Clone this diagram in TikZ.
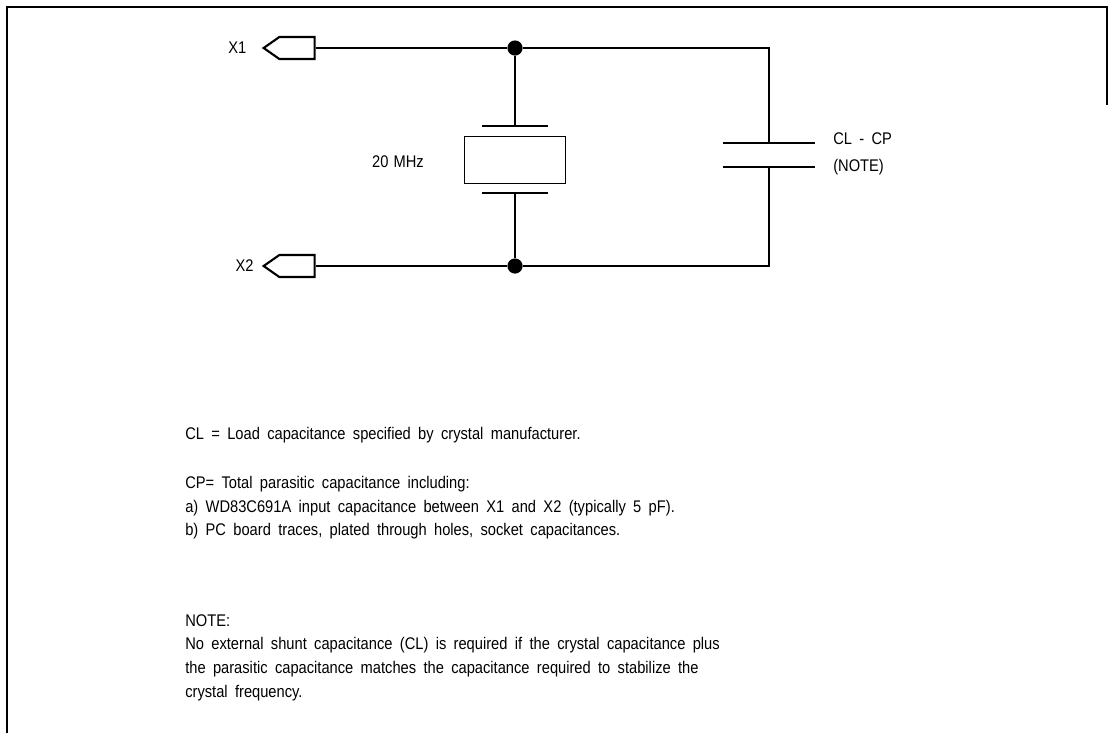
\documentclass[tikz,border=0pt]{standalone}
\usepackage{fontspec}
\setmainfont{Liberation Sans}[FakeStretch=0.87, WordSpace=1.8]
\usetikzlibrary{shapes.symbols, positioning}

\begin{document}
\begin{tikzpicture}[x=0.025cm, y=-0.025cm,
	port/.style={signal, signal to=west, signal pointer angle=70, draw,
		line width=1.5pt, minimum width=1.275cm, minimum height=0.55cm, inner sep=0pt},
	dot/.style={circle, fill, inner sep=0pt, minimum size=0.38cm},
	wire/.style={line width=1pt},
	plate/.style={line width=1.2pt},
	lbl/.style={inner sep=0pt, font=\fontsize{12}{14}\selectfont},
	txt/.style={lbl, anchor=base west}]
	\useasboundingbox (0,0) rectangle (1109,733);
	% frame
	\draw[line width=1.1pt] (7,733) -- (7,7) -- (1107,7) -- (1107,105);

	% ports
	\node[port] (x1) at (297,48) {};
	\node[port] (x2) at (297,266) {};
	\node[lbl, left=0.38cm of x1] (lx1) {X1};
	\node[lbl, left=0.2cm of x2] (lx2) {X2};

	% junctions
	\node[dot] (top) at (515,48) {};
	\node[dot] (bot) at (515,266) {};
	\coordinate (ctop) at (769,48);
	\coordinate (cbot) at (769,266);

	% crystal
	\node[draw, line width=0.6pt, minimum width=2.525cm, minimum height=1.175cm, inner sep=0pt] (xtal) at (515,159.5) {};
	\coordinate (xp1) at (515,126);
	\coordinate (xp2) at (515,193);
	\draw[plate] ([xshift=-0.825cm]xp1) -- ([xshift=0.825cm]xp1);
	\draw[plate] ([xshift=-0.825cm]xp2) -- ([xshift=0.825cm]xp2);
	\node[lbl] (freq) at (398,162) {20\hspace{0.3em}MHz};

	% capacitor
	\coordinate (cp1) at (769,143);
	\coordinate (cp2) at (769,167);
	\draw[plate] ([xshift=-1.15cm]cp1) -- ([xshift=1.15cm]cp1);
	\draw[plate] ([xshift=-1.15cm]cp2) -- ([xshift=1.15cm]cp2);
	\node[lbl, anchor=west] (cval) at (833,139) {CL - CP};
	\node[lbl, anchor=west] (cnote) at (833,167) {(NOTE)};

	% wiring
	\draw[wire] (x1.east) -- (top) -- (ctop) -- (cp1);
	\draw[wire] (cp2) -- (cbot) -- (bot) -- (x2.east);
	\draw[wire] (top) -- (xp1);
	\draw[wire] (xp2) -- (bot);

	% notes
	\node[txt] (n1) at (185,439) {CL = Load capacitance specified by crystal manufacturer.};
	\node[txt] (n2) at (185,488) {CP= Total parasitic capacitance including:};
	\node[txt] (n3) at (185,512) {a) WD83C691A input capacitance between X1 and X2 (typically 5 pF).};
	\node[txt] (n4) at (185,535) {b) PC board traces, plated through holes, socket capacitances.};
	\node[txt] (n5) at (185,626) {NOTE:};
	\node[txt] (n6) at (185,649) {No external shunt capacitance (CL) is required if the crystal capacitance plus};
	\node[txt] (n7) at (185,673) {the parasitic capacitance matches the capacitance required to stabilize the};
	\node[txt] (n8) at (185,697) {crystal frequency.};
\end{tikzpicture}
\end{document}
